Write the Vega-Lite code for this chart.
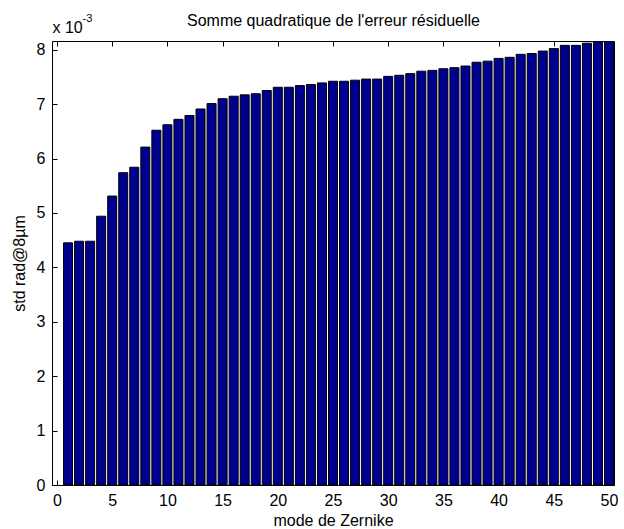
{
  "$schema": "https://vega.github.io/schema/vega-lite/v6.json",
  "width": 562,
  "height": 444,
  "autosize": {"type": "none"},
  "padding": {"left": 52, "top": 41, "right": 10, "bottom": 44},
  "background": "white",
  "config": {"view": {"stroke": null}, "font": "Liberation Sans"},
  "data": {
    "values": [
      {"mode": 1, "std": 0.00445}, {"mode": 2, "std": 0.00448}, {"mode": 3, "std": 0.00448},
      {"mode": 4, "std": 0.00494}, {"mode": 5, "std": 0.00531}, {"mode": 6, "std": 0.00574},
      {"mode": 7, "std": 0.00584}, {"mode": 8, "std": 0.00621}, {"mode": 9, "std": 0.00652},
      {"mode": 10, "std": 0.00662}, {"mode": 11, "std": 0.00672}, {"mode": 12, "std": 0.00679},
      {"mode": 13, "std": 0.00691}, {"mode": 14, "std": 0.00701}, {"mode": 15, "std": 0.0071},
      {"mode": 16, "std": 0.007145}, {"mode": 17, "std": 0.00717}, {"mode": 18, "std": 0.00719},
      {"mode": 19, "std": 0.00725}, {"mode": 20, "std": 0.00731}, {"mode": 21, "std": 0.00731},
      {"mode": 22, "std": 0.00734}, {"mode": 23, "std": 0.00736}, {"mode": 24, "std": 0.00739},
      {"mode": 25, "std": 0.00742}, {"mode": 26, "std": 0.00742}, {"mode": 27, "std": 0.00744},
      {"mode": 28, "std": 0.00746}, {"mode": 29, "std": 0.00746}, {"mode": 30, "std": 0.00751},
      {"mode": 31, "std": 0.00753}, {"mode": 32, "std": 0.00756}, {"mode": 33, "std": 0.007605},
      {"mode": 34, "std": 0.00762}, {"mode": 35, "std": 0.00765}, {"mode": 36, "std": 0.00767},
      {"mode": 37, "std": 0.0077}, {"mode": 38, "std": 0.00777}, {"mode": 39, "std": 0.00779},
      {"mode": 40, "std": 0.00784}, {"mode": 41, "std": 0.00786}, {"mode": 42, "std": 0.007915},
      {"mode": 43, "std": 0.00793}, {"mode": 44, "std": 0.007975}, {"mode": 45, "std": 0.00802},
      {"mode": 46, "std": 0.00808}, {"mode": 47, "std": 0.00808}, {"mode": 48, "std": 0.00812},
      {"mode": 49, "std": 0.008145}, {"mode": 50, "std": 0.00816}
    ]
  },
  "layer": [
    {
      "mark": {"type": "bar", "width": 9, "fill": "#00008F", "stroke": "black", "strokeWidth": 1, "clip": true},
      "encoding": {
        "x": {
          "field": "mode", "type": "quantitative",
          "scale": {"domain": [0, 50], "nice": false, "zero": false},
          "axis": {
            "orient": "bottom", "values": [0, 5, 10, 15, 20, 25, 30, 35, 40, 45, 50],
            "grid": false, "tickSize": -5, "tickColor": "black", "domainColor": "black",
            "labelFontSize": 16, "labelColor": "black", "labelPadding": 12, "labelFont": "Liberation Sans",
            "labelFlush": false, "labelOverlap": false,
            "title": "mode de Zernike", "titleFontSize": 16, "titleFontWeight": "normal", "titleColor": "black",
            "titleFont": "Liberation Sans", "titleY": 40, "titleBaseline": "alphabetic"
          }
        },
        "y": {
          "field": "std", "type": "quantitative",
          "scale": {"domain": [0, 0.00816], "nice": false},
          "axis": {
            "orient": "left", "values": [0, 0.001, 0.002, 0.003, 0.004, 0.005, 0.006, 0.007, 0.008],
            "labelExpr": "format(round(datum.value*1000), 'd')",
            "grid": false, "tickSize": -5, "tickColor": "black", "domainColor": "black",
            "labelFontSize": 16, "labelColor": "black", "labelPadding": 12, "labelFont": "Liberation Sans",
            "labelOverlap": false,
            "title": "std rad@8µm", "titleFontSize": 16, "titleFontWeight": "normal", "titleColor": "black",
            "titleFont": "Liberation Sans", "titleX": -28, "titleBaseline": "alphabetic", "titleAngle": -90
          }
        }
      }
    },
    {
      "mark": {"type": "point", "opacity": 0},
      "encoding": {
        "x": {
          "field": "mode", "type": "quantitative",
          "axis": {
            "orient": "top", "values": [0, 5, 10, 15, 20, 25, 30, 35, 40, 45, 50],
            "labels": false, "grid": false, "tickSize": -5, "tickColor": "black", "domainColor": "black",
            "title": "Somme quadratique de l'erreur résiduelle", "titleFontSize": 16, "titleFontWeight": "normal",
            "titleColor": "black", "titleFont": "Liberation Sans", "titleX": 281, "titleY": -16,
            "titleAlign": "center", "titleBaseline": "alphabetic"
          }
        },
        "y": {
          "field": "std", "type": "quantitative",
          "axis": {
            "orient": "right", "values": [0, 0.001, 0.002, 0.003, 0.004, 0.005, 0.006, 0.007, 0.008],
            "labels": false, "grid": false, "tickSize": -5, "tickColor": "black", "domainColor": "black",
            "title": "x 10", "titleFontSize": 16, "titleFontWeight": "normal", "titleColor": "black",
            "titleFont": "Liberation Sans", "titleAngle": 0, "titleAlign": "left", "titleBaseline": "alphabetic",
            "titleX": -562, "titleY": -9
          }
        }
      }
    },
    {
      "mark": {"type": "point", "opacity": 0},
      "encoding": {
        "x": {"field": "mode", "type": "quantitative", "axis": null},
        "y": {
          "field": "std", "type": "quantitative",
          "axis": {
            "orient": "left", "labels": false, "ticks": false, "domain": false, "grid": false,
            "title": "-3", "titleFontSize": 11, "titleFontWeight": "normal", "titleColor": "black",
            "titleFont": "Liberation Sans", "titleAngle": 0, "titleAlign": "left", "titleBaseline": "alphabetic",
            "titleX": 30, "titleY": -20
          }
        }
      }
    }
  ],
  "resolve": {"axis": {"x": "independent", "y": "independent"}}
}
